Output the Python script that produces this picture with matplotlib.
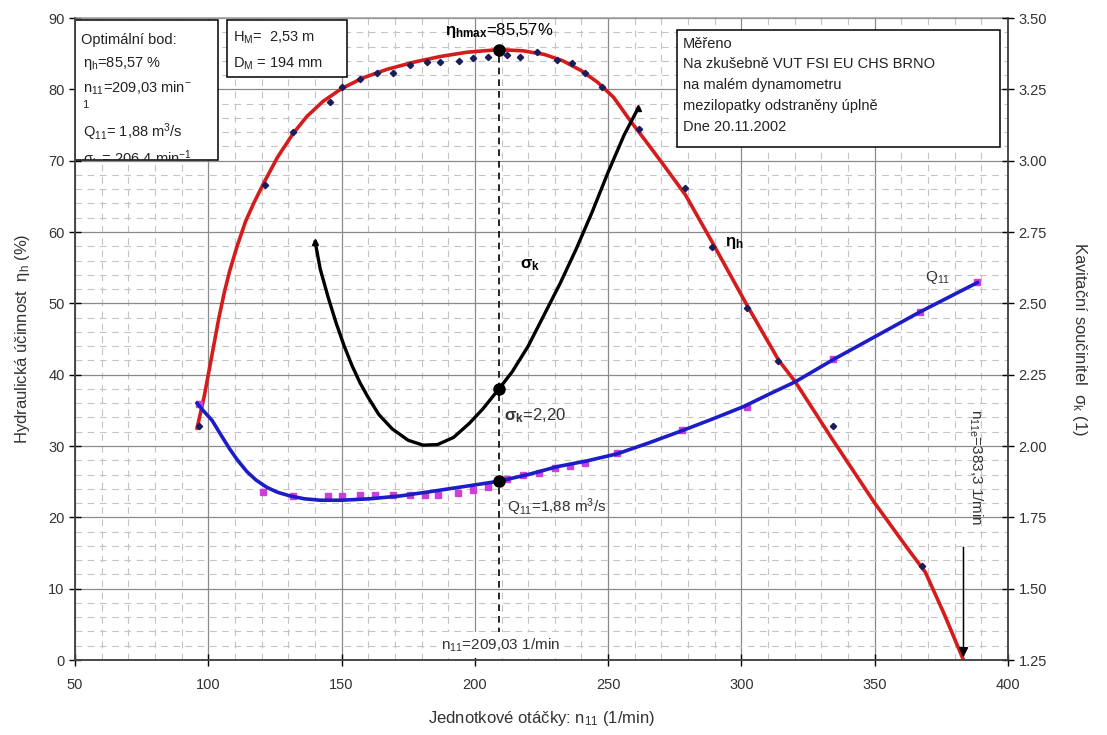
import numpy as np
import matplotlib
matplotlib.use('Agg')
import matplotlib.pyplot as plt
from matplotlib import ticker
from matplotlib.patches import Rectangle

plt.rcParams['font.family'] = ['Liberation Sans', 'DejaVu Sans']
plt.rcParams['mathtext.fontset'] = 'custom'
plt.rcParams['mathtext.rm'] = 'Liberation Sans'
plt.rcParams['mathtext.it'] = 'Liberation Sans'
plt.rcParams['mathtext.bf'] = 'Liberation Sans:bold'

# namerene body ucinnosti
eta_n = [96.5, 121.3, 131.8, 145.7, 150.2, 156.9, 163.3, 169.3, 175.7, 182.1, 187.0,
         194.1, 199.3, 205.0, 212.0, 217.0, 223.4, 230.9, 236.5, 241.4, 247.8, 261.6,
         278.9, 289.0, 302.2, 313.8, 334.4, 367.8]
eta_val = [32.8, 66.6, 74.0, 78.2, 80.3, 81.5, 82.3, 82.3, 83.4, 83.8, 83.8,
           84.0, 84.4, 84.5, 84.8, 84.5, 85.2, 84.1, 83.7, 82.3, 80.3, 74.4,
           66.2, 57.9, 49.3, 41.9, 32.8, 13.2]
# trendline ucinnosti
eta_fit_n = [95.8, 97.0, 98.5, 100.0, 102.0, 104.0, 106.0, 108.0, 110.8, 114.0, 117.0,
             121.0, 126.0, 131.8, 137.0, 143.0, 150.0, 158.0, 167.0, 177.0, 187.0, 197.0,
             209.03, 218.0, 226.0, 233.0, 240.0, 246.0, 252.0, 258.3, 264.0, 271.0, 279.0,
             289.0, 302.0, 314.0, 320.2, 334.0, 350.0, 362.0, 369.0, 376.0, 383.3]
eta_fit = [32.5, 34.5, 37.0, 40.0, 44.0, 48.0, 51.5, 54.5, 58.0, 61.5, 64.0,
           67.0, 70.5, 73.8, 76.2, 78.3, 80.1, 81.6, 82.8, 83.8, 84.6, 85.2,
           85.57, 85.4, 84.9, 84.0, 82.6, 81.0, 78.9, 75.6, 72.8, 69.3, 65.2,
           58.6, 49.8, 42.0, 39.0, 31.0, 22.0, 15.8, 12.3, 6.5, 0.0]

# prutok Q11
q_n = [96.5, 120.5, 131.8, 144.9, 150.2, 156.9, 162.6, 169.3, 175.7, 181.3, 186.2,
       193.7, 199.3, 205.0, 212.0, 218.0, 224.0, 230.1, 235.7, 241.4, 253.4, 277.8,
       302.0, 334.4, 367.0, 388.5]
q_val = [2.69, 1.77, 1.72, 1.72, 1.72, 1.73, 1.73, 1.73, 1.73, 1.73, 1.73,
         1.76, 1.79, 1.82, 1.90, 1.94, 1.97, 2.02, 2.04, 2.07, 2.18, 2.42,
         2.66, 3.16, 3.66, 3.97]
q_fit_n = [95.8, 98.0, 101.4, 105.0, 108.0, 111.0, 114.5, 118.0, 122.0, 126.0, 130.7,
           136.0, 142.0, 150.0, 160.7, 172.0, 183.2, 199.3, 209.03, 220.0, 230.9, 242.0,
           253.4, 265.0, 278.1, 290.0, 300.7, 310.0, 320.2, 334.4, 350.0, 367.0, 388.5]
q_fit = [2.70, 2.625, 2.52, 2.355, 2.22, 2.10, 1.98, 1.89, 1.815, 1.763, 1.725,
         1.695, 1.68, 1.68, 1.695, 1.725, 1.77, 1.838, 1.88, 1.95, 2.033, 2.093,
         2.168, 2.28, 2.415, 2.543, 2.663, 2.79, 2.925, 3.158, 3.398, 3.66, 3.968]

# kavitacni soucinitel
sig_n = [140.1, 142.0, 145.0, 148.0, 151.0, 154.0, 157.0, 160.0, 164.0, 169.0, 175.0,
         180.6, 186.0, 192.0, 198.0, 203.0, 209.03, 214.0, 220.0, 226.0, 232.0, 238.0,
         244.0, 250.0, 256.0, 261.3]
sig_val = [2.715, 2.62, 2.52, 2.43, 2.35, 2.28, 2.22, 2.17, 2.11, 2.06, 2.02,
           2.003, 2.005, 2.03, 2.08, 2.13, 2.20, 2.26, 2.35, 2.46, 2.57, 2.69,
           2.82, 2.96, 3.09, 3.185]

n_opt = 209.03
eta_max = 85.57
sig_opt = 2.20
q_opt = 1.88
n_e = 383.3

fig = plt.figure(figsize=(11.07, 7.35), dpi=100)
ax = fig.add_axes([75/1107, 1-660/735, 933/1107, 642/735])
ax2 = ax.twinx()
ax3 = ax.twinx()

txt_c = '#333333'

ax.set_xlim(50, 400)
ax.set_ylim(0, 90)
ax2.set_ylim(1.25, 3.5)
ax3.set_ylim(0, 6.75)

ax.xaxis.set_major_locator(ticker.MultipleLocator(50))
ax.xaxis.set_minor_locator(ticker.MultipleLocator(10))
ax.yaxis.set_major_locator(ticker.MultipleLocator(10))
ax.yaxis.set_minor_locator(ticker.MultipleLocator(2))
ax2.yaxis.set_major_locator(ticker.MultipleLocator(0.25))
ax2.yaxis.set_major_formatter(ticker.FormatStrFormatter('%.2f'))

ax.grid(which='major', color='#8a8a8a', lw=0.9)
ax.grid(which='minor', color='#c4c4c4', lw=0.8, ls=(0, (6, 5)))
ax.set_axisbelow(True)

for a in (ax, ax2):
    a.tick_params(which='major', direction='inout', length=8, width=1, labelsize=10.5, labelcolor=txt_c)
    a.tick_params(which='minor', length=0)
    for s in a.spines.values():
        s.set_color('#444444')
        s.set_linewidth(1.1)
ax.tick_params(axis='x', pad=9)
ax.spines['top'].set_color('#9a9a9a')
ax2.spines['top'].set_visible(False)
ax3.set_axis_off()

ax.set_xlabel('Jednotkové otáčky: n$_{11}$ (1/min)', fontsize=12, color=txt_c, labelpad=12)
ax.set_ylabel('Hydraulická účinnost  η$_{h}$ (%)', fontsize=12, color=txt_c, labelpad=12)
ax2.set_ylabel('Kavitační součinitel  σ$_{k}$ (1)', fontsize=12, color=txt_c, rotation=270, labelpad=30)

# krivky
ax.plot(eta_fit_n, eta_fit, color='#d41c1c', lw=2.6, zorder=3, solid_joinstyle='round')
ax.plot(eta_n, eta_val, 'D', color='#1c1c5c', ms=3.2, zorder=4)
ax3.plot(q_fit_n, q_fit, color='#1c1cc8', lw=2.6, zorder=3, solid_joinstyle='round')
ax3.plot(q_n, q_val, 's', color='#cc3fd8', ms=4.5, zorder=2)
ax2.plot(sig_n, sig_val, color='black', lw=2.4, zorder=3, solid_joinstyle='round')
ax2.plot([sig_n[0], sig_n[-1]], [sig_val[0], sig_val[-1]], '^', color='black', ms=5, zorder=4)

# optimum
ax.plot([n_opt, n_opt], [2, eta_max], color='black', lw=1.2, ls=(0, (4, 3)), zorder=2)
ax.plot(n_opt, eta_max, 'o', color='black', ms=8, zorder=5)
ax2.plot(n_opt, sig_opt, 'o', color='black', ms=8, zorder=5)
ax3.plot(n_opt, q_opt, 'o', color='black', ms=8, zorder=5)

ax.text(n_opt, 88.2, r'$\mathbf{\eta}_{\mathbf{hmax}}$=85,57%', ha='center', va='center', fontsize=12, color='black')
ax.text(220.7, 55.4, r'$\mathbf{\sigma}_{\mathbf{k}}$', ha='center', va='center', fontsize=12, color='black')
ax.text(211, 34.3, r'$\mathbf{\sigma}_{\mathbf{k}}$=2,20', ha='left', va='center', fontsize=12, color=txt_c)
ax.text(212, 21.4, 'Q$_{11}$=1,88 m$^3$/s', ha='left', va='center', fontsize=11, color=txt_c)
ax.text(297.5, 58.5, r'$\mathbf{\eta}_{\mathbf{h}}$', ha='center', va='center', fontsize=12, color='black')
ax.text(369, 53.6, 'Q$_{11}$', ha='left', va='center', fontsize=11, color=txt_c)
ax.text(n_opt + 0.5, 2.1, 'n$_{11}$=209,03 1/min', ha='center', va='center', fontsize=11, color=txt_c,
        bbox=dict(facecolor='white', edgecolor='none', pad=3), zorder=6)
ax.text(387.8, 27, 'n$_{11e}$=383,3 1/min', ha='center', va='center', fontsize=11, color=txt_c,
        rotation=-90, zorder=6)
ax.annotate('', xy=(n_e, 0), xytext=(n_e, 16.2),
            arrowprops=dict(arrowstyle='-|>', color='black', lw=1.1, mutation_scale=14), zorder=6)

# rameckove popisky
def box(x0, y0, x1, y1):
    r = Rectangle(((x0-75)/933, (660-y1)/642), (x1-x0)/933, (y1-y0)/642, transform=ax.transAxes,
                  facecolor='white', edgecolor='black', lw=1.1, zorder=7)
    ax.add_patch(r)
    return r

def line(px, py, s, clip=None, size=10.5):
    t = ax.text((px-75)/933, (660-py)/642, s, transform=ax.transAxes, ha='left', va='center',
                fontsize=size, color='#222222', zorder=8)
    if clip is not None:
        t.set_clip_on(True)
        t.set_clip_path(clip)
    return t

b1 = box(75, 20, 218, 160)
line(81, 40, 'Optimální bod:')
line(83, 63, 'η$_{h}$=85,57 %')
line(83, 88, 'n$_{11}$=209,03 min$^{-}$')
line(82, 105, '1', size=8)
line(83, 132, 'Q$_{11}$= 1,88 m$^3$/s')
line(83, 158, 'σ$_{k}$ = 206,4 min$^{-1}$', clip=b1)

box(227, 20, 347, 77)
line(233, 38, 'H$_{M}$=  2,53 m')
line(233, 64, 'D$_{M}$ = 194 mm')

box(677, 30, 1000, 147)
line(683, 44, 'Měřeno')
line(683, 64, 'Na zkušebně VUT FSI EU CHS BRNO')
line(683, 85, 'na malém dynamometru')
line(683, 106, 'mezilopatky odstraněny úplně')
line(683, 127, 'Dne 20.11.2002')

fig.savefig('out.png', dpi=100, facecolor='white')
